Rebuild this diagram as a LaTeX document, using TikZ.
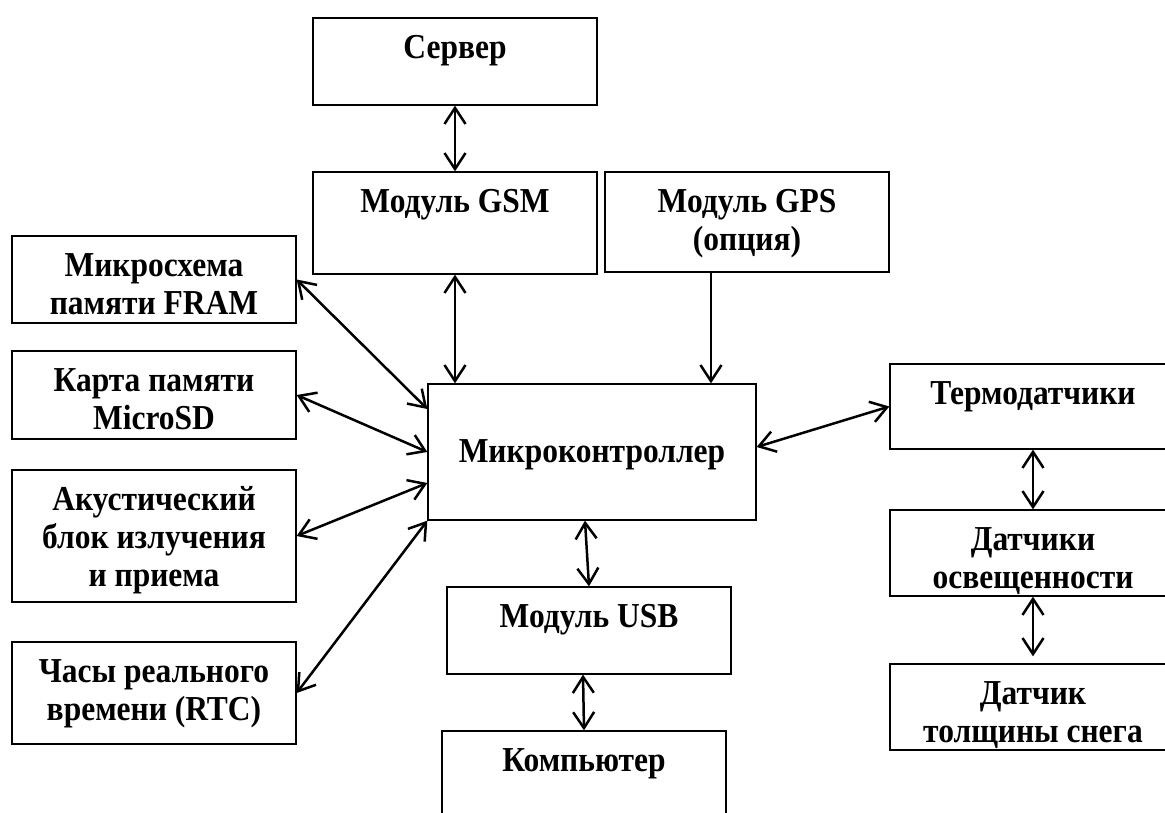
\documentclass[tikz,border=0pt]{standalone}
\usepackage{fontspec}
\setmainfont{Liberation Serif}[FakeStretch=0.9]
\usetikzlibrary{arrows.meta}
\tikzset{
  box/.style={draw, line width=1.3pt, inner sep=0pt},
  lbl/.style={font=\bfseries\fontsize{35}{38}\selectfont, align=center, inner sep=0pt, anchor=north},
  tipb/.tip={Straight Barb[length=16pt,width=21pt]},
  link/.style={line width=2.5pt, tipb-tipb},
  oneway/.style={line width=2.5pt, -tipb},
}
\begin{document}
\begin{tikzpicture}[x=1pt,y=-1pt]
\useasboundingbox (0,0) rectangle (1165,813);
% boxes
\node[box, minimum width=284pt, minimum height=87pt]  (srv)  at (455,61.5) {};
\node[box, minimum width=284pt, minimum height=102pt] (gsm)  at (455,223) {};
\node[box, minimum width=284pt, minimum height=100pt] (gps)  at (747,222) {};
\node[box, minimum width=284pt, minimum height=87pt]  (fram) at (154,279.5) {};
\node[box, minimum width=284pt, minimum height=88pt]  (sd)   at (154,395) {};
\node[box, minimum width=284pt, minimum height=132pt] (ac)   at (154,536) {};
\node[box, minimum width=284pt, minimum height=102pt] (rtc)  at (154,693) {};
\node[box, minimum width=328pt, minimum height=136pt] (mc)   at (592,452) {};
\node[box, minimum width=284pt, minimum height=87pt]  (usb)  at (589,630.5) {};
\node[box, minimum width=284pt, minimum height=87pt]  (pc)   at (584,774.5) {};
\node[box, minimum width=286pt, minimum height=85pt]  (term) at (1033,406.5) {};
\node[box, minimum width=286pt, minimum height=86pt]  (lux)  at (1033,553) {};
\node[box, minimum width=286pt, minimum height=86pt]  (snow) at (1033,707) {};
% labels
\node[lbl] (tsrv)  at ([yshift=-14pt]srv.north)  {\strut Сервер};
\node[lbl] (tgsm)  at ([yshift=-14pt]gsm.north)  {\strut Модуль GSM};
\node[lbl] (tgps)  at ([yshift=-14pt]gps.north)  {\strut Модуль GPS\\(опция)};
\node[lbl] (tfram) at ([yshift=-14pt]fram.north) {\strut Микросхема\\памяти FRAM};
\node[lbl] (tsd)   at ([yshift=-14pt]sd.north)   {\strut Карта памяти\\MicroSD};
\node[lbl] (tac)   at ([yshift=-14pt]ac.north)   {\strut Акустический\\блок излучения\\и приема};
\node[lbl] (trtc)  at ([yshift=-14pt]rtc.north)  {\strut Часы реального\\времени (RTC)};
\node[lbl] (tmc)   at ([yshift=-52pt]mc.north)   {\strut Микроконтроллер};
\node[lbl] (tusb)  at ([yshift=-14pt]usb.north)  {\strut Модуль USB};
\node[lbl] (tpc)   at ([yshift=-14pt]pc.north)   {\strut Компьютер};
\node[lbl] (tterm) at ([yshift=-14pt]term.north) {\strut Термодатчики};
\node[lbl] (tlux)  at ([yshift=-14pt]lux.north)  {\strut Датчики\\освещенности};
\node[lbl] (tsnow) at ([yshift=-14pt]snow.north) {\strut Датчик\\толщины снега};
% connectors
\draw[link] (srv.south) -- (gsm.north);
\draw[link] (gsm.south) -- (gsm.south |- mc.north);
\draw[oneway] ([xshift=-36pt]gps.south) -- ([xshift=-36pt]gps.south |- mc.north);
\draw[link] (fram.east) -- ([yshift=43pt]mc.west);
\draw[link] (sd.east) -- (mc.west);
\draw[link] (ac.east) -- ([yshift=-31pt]mc.west);
\draw[link] (rtc.east) -- (mc.south west);
\draw[link] ([yshift=5pt]mc.east) -- (term.west);
\draw[link] (term.south) -- (lux.north);
\draw[link] (lux.south) -- ([yshift=7pt]snow.north);
\draw[link] ([xshift=-7pt]mc.south) -- (usb.north);
\draw[link] ([xshift=-6pt]usb.south) -- (pc.north);
\end{tikzpicture}
\end{document}
